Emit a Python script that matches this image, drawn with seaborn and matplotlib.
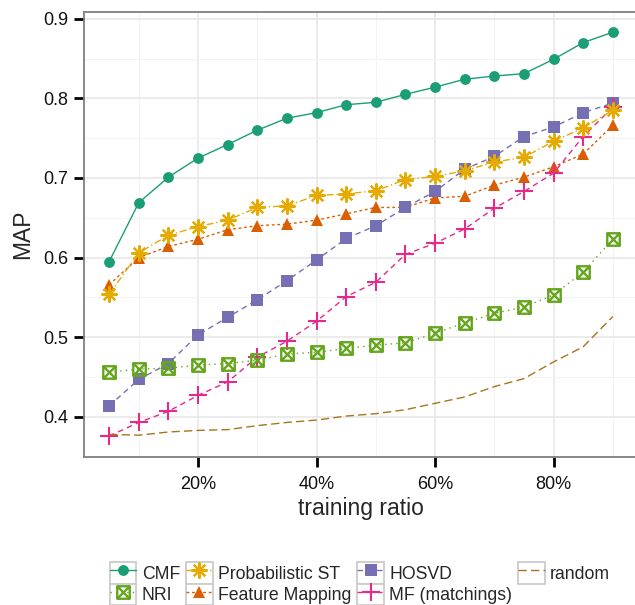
import numpy as np
import pandas as pd
import matplotlib
matplotlib.use("Agg")
import matplotlib.pyplot as plt
import seaborn as sns
from matplotlib.path import Path
from matplotlib.patches import Rectangle
from matplotlib.legend_handler import HandlerLine2D
from matplotlib.ticker import FixedLocator, FuncFormatter

# ---------------- data ----------------
train_ratio = [5, 10, 15, 20, 25, 30, 35, 40, 45, 50, 55, 60, 65, 70, 75, 80, 85, 90]

cmf = [0.595, 0.669, 0.701, 0.725, 0.742, 0.760, 0.775, 0.782, 0.792, 0.795,
       0.805, 0.814, 0.824, 0.828, 0.831, 0.849, 0.870, 0.883]
nri = [0.456, 0.460, 0.461, 0.465, 0.467, 0.471, 0.479, 0.481, 0.486, 0.490,
       0.493, 0.505, 0.518, 0.530, 0.538, 0.553, 0.582, 0.623]
prob_st = [0.554, 0.606, 0.628, 0.639, 0.647, 0.663, 0.665, 0.678, 0.680, 0.684,
           0.698, 0.702, 0.709, 0.720, 0.726, 0.746, 0.763, 0.785]
feat_map = [0.566, 0.600, 0.614, 0.623, 0.635, 0.640, 0.642, 0.647, 0.655, 0.663,
            0.663, 0.675, 0.677, 0.691, 0.701, 0.714, 0.730, 0.766]
hosvd = [0.414, 0.447, 0.467, 0.503, 0.525, 0.547, 0.571, 0.597, 0.624, 0.640,
         0.663, 0.683, 0.711, 0.727, 0.752, 0.764, 0.782, 0.794]
mf = [0.376, 0.393, 0.407, 0.427, 0.444, 0.475, 0.495, 0.520, 0.551, 0.569,
      0.604, 0.618, 0.636, 0.662, 0.683, 0.706, 0.752, 0.789]
rand = [0.378, 0.377, 0.381, 0.383, 0.384, 0.389, 0.393, 0.396, 0.401, 0.404,
        0.409, 0.417, 0.425, 0.438, 0.448, 0.469, 0.488, 0.526]

methods = ["CMF", "NRI", "Probabilistic ST", "Feature Mapping", "HOSVD",
           "MF (matchings)", "random"]
values = [cmf, nri, prob_st, feat_map, hosvd, mf, rand]

y_ticks = [0.4, 0.5, 0.6, 0.7, 0.8, 0.9]
x_ticks = [20, 40, 60, 80]

rows = []
for m, v in zip(methods, values):
    for x, y in zip(train_ratio, v):
        rows.append({"ratio": x, "MAP": y, "method": m})
df = pd.DataFrame(rows)

# ---------------- style ----------------
sns.set_theme(style="white")
plt.rcParams["font.family"] = ["Liberation Sans", "DejaVu Sans"]

# boxed-X marker (ggplot shape 7)
boxx = Path([(-1, -1), (1, -1), (1, 1), (-1, 1), (-1, -1), (-1, -1), (1, 1), (-1, 1), (1, -1)],
            [Path.MOVETO, Path.LINETO, Path.LINETO, Path.LINETO, Path.CLOSEPOLY,
             Path.MOVETO, Path.LINETO, Path.MOVETO, Path.LINETO])

styles = {
    "CMF": dict(color="#1B9E77", marker="o", ms=7.8, mfc="#1B9E77", mew=0, ls="-"),
    "Feature Mapping": dict(color="#D95F02", marker="^", ms=9.2, mfc="#D95F02", mew=0, ls=(0, (2, 2))),
    "HOSVD": dict(color="#7570B3", marker="s", ms=8.8, mfc="#7570B3", mew=0, ls=(0, (4, 3))),
    "MF (matchings)": dict(color="#E7298A", marker="+", ms=13, mfc="none", mew=1.5, ls=(0, (4, 3))),
    "NRI": dict(color="#66A61E", marker=boxx, ms=9, mfc="none", mew=1.7, ls=(0, (1, 3))),
    "Probabilistic ST": dict(color="#E6AB02", marker=(8, 2, 0), ms=11.5, mfc="none", mew=1.6, ls=(0, (5, 2, 1, 2))),
    "random": dict(color="#A6761D", marker=None, ms=0, mfc="none", mew=0, ls=(0, (6, 3))),
}

fig = plt.figure(figsize=(6.35, 6.05), dpi=100)
ax = fig.add_axes([84 / 635, 1 - 457 / 605, 554 / 635, 445 / 605])

draw_order = ["CMF", "Feature Mapping", "HOSVD", "MF (matchings)", "NRI", "Probabilistic ST", "random"]
for m in draw_order:
    st = styles[m]
    sub = df[df["method"] == m]
    sns.lineplot(data=sub, x="ratio", y="MAP", ax=ax, errorbar=None, label=m,
                 color=st["color"], marker=st["marker"], markersize=st["ms"],
                 markerfacecolor=st["mfc"], markeredgecolor=st["color"],
                 markeredgewidth=st["mew"], linestyle=st["ls"], linewidth=1.0,
                 legend=False)

ax.set_xlim(0.75, 94.25)
ax.set_ylim(0.3496, 0.9084)

ax.xaxis.set_major_locator(FixedLocator(x_ticks))
ax.xaxis.set_minor_locator(FixedLocator([10, 30, 50, 70, 90]))
ax.yaxis.set_major_locator(FixedLocator(y_ticks))
ax.yaxis.set_minor_locator(FixedLocator([0.35, 0.45, 0.55, 0.65, 0.75, 0.85]))
ax.xaxis.set_major_formatter(FuncFormatter(lambda v, p: f"{v:.0f}%"))
ax.yaxis.set_major_formatter(FuncFormatter(lambda v, p: f"{v:.1f}"))

ax.grid(which="major", color="#E6E6E6", lw=1.1)
ax.grid(which="minor", color="#F3F3F3", lw=0.8)
ax.set_axisbelow(True)

for s in ax.spines.values():
    s.set_color("#808080")
    s.set_linewidth(1.3)

ax.tick_params(which="major", direction="out", length=7.5, width=2, color="black",
               labelsize=13, labelcolor="#111111", pad=4, left=True, bottom=True)
ax.tick_params(which="minor", length=0)
ax.tick_params(axis="x", pad=6)

ax.set_xlabel("training ratio", fontsize=16.5, labelpad=3)
ax.set_ylabel("MAP", fontsize=16.5, labelpad=6)


class BoxedHandler(HandlerLine2D):
    def create_artists(self, legend, orig_handle, xdescent, ydescent, width, height, fontsize, trans):
        arts = super().create_artists(legend, orig_handle, xdescent, ydescent, width, height, fontsize, trans)
        rect = Rectangle((-xdescent, -ydescent), width, height, facecolor="white",
                         edgecolor="#CCCCCC", lw=1.3, transform=trans)
        return [rect] + list(arts)


handles, labels = ax.get_legend_handles_labels()
hmap = dict(zip(labels, handles))
leg_handles = [hmap[m] for m in methods]
fig.legend(leg_handles, methods, ncol=4, loc="upper center",
           bbox_to_anchor=(360 / 635, 1 - 553 / 605), frameon=False,
           handlelength=1.5, handleheight=1.52, handletextpad=0.3,
           columnspacing=0.35, labelspacing=0, borderpad=0, fontsize=12.7,
           handler_map={type(leg_handles[0]): BoxedHandler()})

fig.savefig("out.png", dpi=100)
